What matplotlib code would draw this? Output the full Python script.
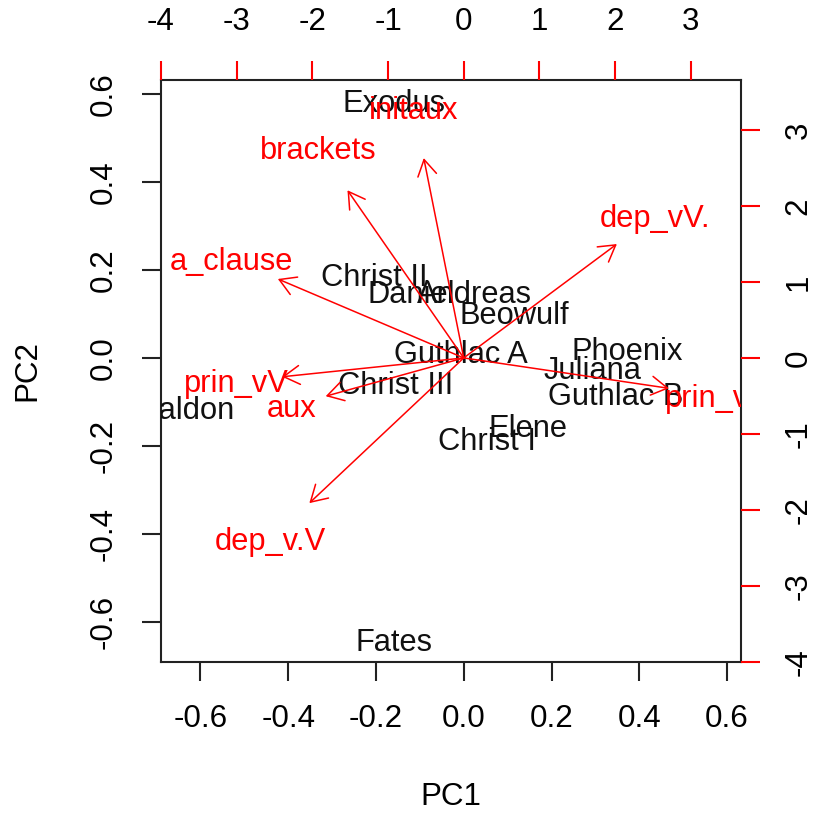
import matplotlib
matplotlib.use("Agg")
import matplotlib.pyplot as plt
from matplotlib.transforms import offset_copy

plt.rcParams['font.family'] = ['Liberation Sans', 'DejaVu Sans']

# Principal component scores of the texts
texts = ["Exodus", "Christ II", "Daniel", "Andreas", "Beowulf", "Guthlac A",
         "Phoenix", "Juliana", "Guthlac B", "Christ III", "Maldon", "Elene",
         "Christ I", "Fates"]
pc1 = [-0.158, -0.203, -0.119, 0.024, 0.115, -0.007,
       0.372, 0.294, 0.346, -0.156, -0.638, 0.146,
       0.052, -0.159]
pc2 = [0.583, 0.189, 0.149, 0.150, 0.103, 0.014,
       0.020, -0.023, -0.083, -0.057, -0.114, -0.155,
       -0.184, -0.641]

# Variable loadings
variables = ["initaux", "brackets", "a_clause", "dep_vV.", "prin_vV",
             "aux", "dep_v.V", "prin_v.V"]
load1 = [-0.66, -1.92, -3.07, 2.53, -3.00, -2.28, -2.55, 3.39]
load2 = [3.29, 2.76, 1.30, 1.875, -0.31, -0.63, -2.39, -0.50]

prim_ticks = [-0.6, -0.4, -0.2, 0.0, 0.2, 0.4, 0.6]
prim_labels = ["-0.6", "-0.4", "-0.2", "0.0", "0.2", "0.4", "0.6"]
sec_ticks = [-4, -3, -2, -1, 0, 1, 2, 3]
sec_labels = ["-4", "-3", "-2", "-1", "0", "1", "2", "3"]

FS = 22.2
TFS = 22.6
RED = "#FF0000"

fig = plt.figure(figsize=(8.14, 8.19), dpi=100)
L, R, B, T = 161 / 814, 740.7 / 814, 1 - 661.7 / 819, 1 - 80 / 819
rect = [L, B, R - L, T - B]

ax = fig.add_axes(rect)
lim = (-0.690, 0.631)
ax.set_xlim(lim)
ax.set_ylim(lim)
for s in ax.spines.values():
    s.set_linewidth(1.5)
    s.set_color("#222222")

ax.set_xticks(prim_ticks)
ax.set_xticklabels(prim_labels)
ax.set_yticks(prim_ticks)
ax.set_yticklabels(prim_labels, rotation=90, va="center")
ax.tick_params(axis="both", direction="out", length=13.7, width=1.5,
               color="#222222", labelsize=TFS, pad=17)

# centre the labels on their cap height rather than on the full line box
score_tr = offset_copy(ax.transData, fig=fig, x=0, y=-3, units="dots")
for name, x, y in zip(texts, pc1, pc2):
    ax.text(x, y, name, ha="center", va="center", fontsize=FS,
            color="#111111", clip_on=True, transform=score_tr)

# Secondary axes for the loadings
ax2 = fig.add_axes(rect, frameon=False)
ax2.patch.set_visible(False)
ax2.set_xlim(-4.0, 3.66)
ax2.set_ylim(-4.0, 3.66)
ax2.xaxis.tick_top()
ax2.yaxis.tick_right()
ax2.set_xticks(sec_ticks)
ax2.set_xticklabels(sec_labels)
ax2.set_yticks(sec_ticks)
ax2.set_yticklabels(sec_labels, rotation=90, va="center")
ax2.tick_params(axis="both", direction="out", length=13.7, width=1.5,
                color=RED, labelsize=TFS, pad=17)

load_tr = offset_copy(ax2.transData, fig=fig, x=0, y=-3, units="dots")
for name, x, y in zip(variables, load1, load2):
    ax2.annotate("", xy=(0.8 * x, 0.8 * y), xytext=(0, 0),
                 arrowprops=dict(arrowstyle="->,head_length=1.15,head_width=0.68",
                                 color=RED, lw=1.1, shrinkA=0, shrinkB=0,
                                 mutation_scale=10),
                 annotation_clip=False)
    ax2.text(x, y, name, ha="center", va="center", fontsize=FS,
             color=RED, clip_on=True, transform=load_tr)

fig.text(451 / 814, 1 - 797 / 819, "PC1", ha="center", va="center", fontsize=TFS)
fig.text(27 / 814, 1 - 371 / 819, "PC2", ha="center", va="center",
         fontsize=TFS, rotation=90)

fig.savefig("out.png", dpi=100)
